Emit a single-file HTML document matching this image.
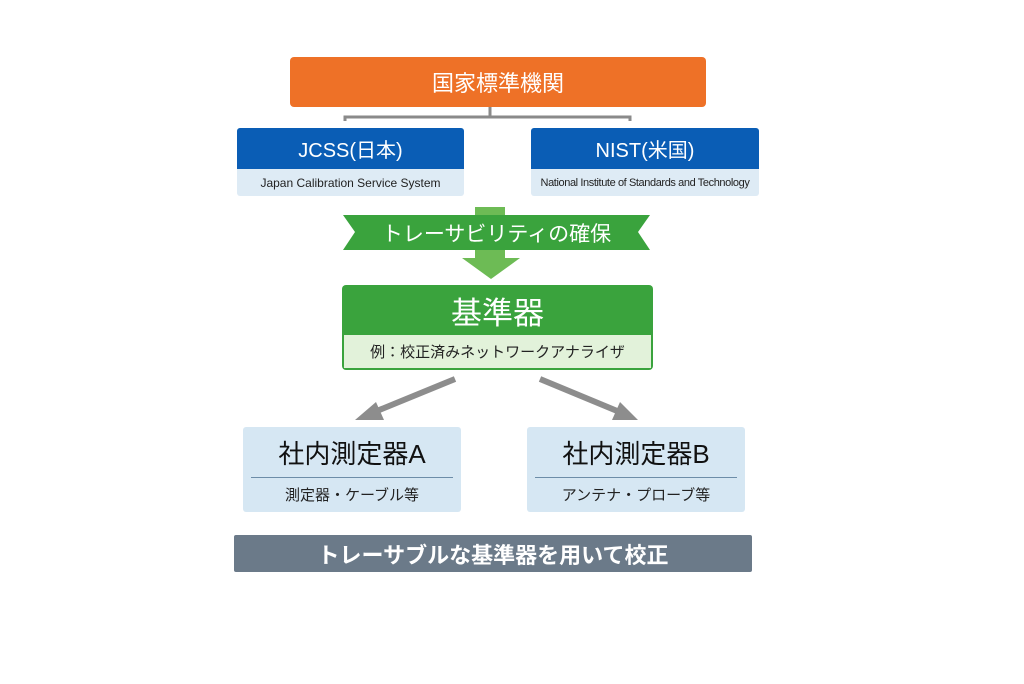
<!DOCTYPE html>
<html><head><meta charset="utf-8"><style>
body{margin:0;width:1024px;height:684px;background:#fff;position:relative;font-family:"Liberation Sans","Noto Sans CJK JP",sans-serif;overflow:hidden}
.a{position:absolute;box-sizing:border-box}
.c{display:flex;align-items:center;justify-content:center;text-align:center}
</style></head><body>
<div class="a c" style="left:290px;top:57px;width:416px;height:50px;background:#ee7127;border-radius:4px;color:#fff;font-size:22px">国家標準機関</div>
<svg class="a" style="left:0;top:0" width="1024" height="684">
<path d="M490 107 V118 M345 121 V117 H630 V121" stroke="#8a8a8a" stroke-width="3" fill="none"/>
<polygon points="343,215 650,215 638,232 650,250 343,250 355,232" fill="#3aa33d"/>
<rect x="475" y="207" width="30" height="8" fill="#6dbb55"/>
<rect x="475" y="250" width="30" height="9" fill="#6dbb55"/>
<polygon points="462,258 520,258 491,279" fill="#6dbb55"/>
<line x1="455" y1="379" x2="372" y2="413" stroke="#8d8d8d" stroke-width="6"/>
<polygon points="355,420 376,402 384,420" fill="#8d8d8d"/>
<line x1="540" y1="379" x2="622" y2="413" stroke="#8d8d8d" stroke-width="6"/>
<polygon points="638,420 612,420 620,402" fill="#8d8d8d"/>
</svg>
<div class="a c" style="left:343px;top:215px;width:307px;height:35px;color:#fff;font-size:21px">トレーサビリティの確保</div>
<div class="a" style="left:237px;top:128px;width:227px;height:68px;border-radius:3px;overflow:hidden;background:#deebf5">
<div class="c" style="height:41px;background:#0a5db5;color:#fff;font-size:20px">JCSS(日本)</div>
<div class="c" style="height:27px;font-size:12px;color:#222">Japan Calibration Service System</div></div>
<div class="a" style="left:531px;top:128px;width:228px;height:68px;border-radius:3px;overflow:hidden;background:#deebf5">
<div class="c" style="height:41px;background:#0a5db5;color:#fff;font-size:20px">NIST(米国)</div>
<div class="c" style="height:27px;font-size:11px;color:#222;letter-spacing:-0.4px">National Institute of Standards and Technology</div></div>
<div class="a" style="left:342px;top:285px;width:311px;height:85px;border-radius:4px;overflow:hidden;background:#3aa33d;padding:0 2px 2px">
<div class="c" style="height:50px;color:#fff;font-size:31px">基準器</div>
<div class="c" style="height:33px;background:#e2f2da;font-size:15px;color:#222">例：校正済みネットワークアナライザ</div></div>
<div class="a" style="left:243px;top:427px;width:218px;height:85px;background:#d6e7f3;border-radius:3px">
<div class="c" style="height:50px;font-size:26px;color:#111">社内測定器A</div>
<div style="margin:0 8px;border-top:1.5px solid #6d8da8"></div>
<div class="c" style="height:33px;font-size:15px;color:#222">測定器・ケーブル等</div></div>
<div class="a" style="left:527px;top:427px;width:218px;height:85px;background:#d6e7f3;border-radius:3px">
<div class="c" style="height:50px;font-size:26px;color:#111">社内測定器B</div>
<div style="margin:0 8px;border-top:1.5px solid #6d8da8"></div>
<div class="c" style="height:33px;font-size:15px;color:#222">アンテナ・プローブ等</div></div>
<div class="a c" style="left:234px;top:535px;width:518px;height:37px;background:#6b7a89;color:#fff;font-size:22px;font-weight:bold;border-radius:2px">トレーサブルな基準器を用いて校正</div>
</body></html>
